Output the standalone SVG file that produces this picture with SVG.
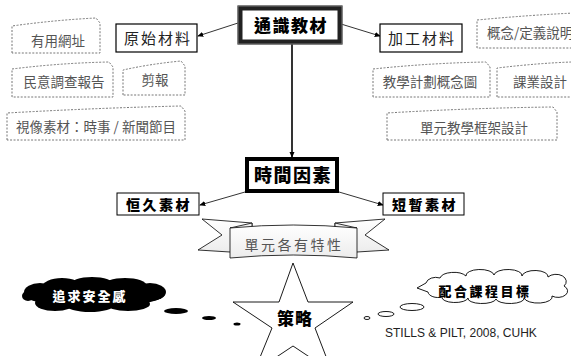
<svg xmlns="http://www.w3.org/2000/svg" width="571" height="356" viewBox="0 0 571 356">
<style>
.dash{fill:#fff;stroke:#777;stroke-width:1;stroke-dasharray:2,1.5}
.dt{font-family:"Noto Sans CJK TC","Noto Sans",sans-serif;font-size:13.5px;fill:#555;text-anchor:middle}
.heavy{font-family:"Noto Sans CJK TC",sans-serif;font-weight:900;fill:#000;text-anchor:middle}
.plain{font-family:"Noto Sans CJK TC",sans-serif;font-weight:400;fill:#222;text-anchor:middle}
.box{fill:#fff;stroke:#000}
.conn{stroke:#000;stroke-width:0.8;fill:none}
</style>
<defs>
<marker id="ah" viewBox="0 0 8 8" refX="7" refY="4" markerWidth="6" markerHeight="6" orient="auto" markerUnits="userSpaceOnUse">
<path d="M0,0.5 L8,4 L0,7.5 Z" fill="#000"/>
</marker>
<linearGradient id="rib" x1="0" y1="0" x2="0" y2="1">
<stop offset="0" stop-color="#fff"/><stop offset="1" stop-color="#ececec"/>
</linearGradient>
</defs>
<rect width="571" height="356" fill="#fff"/>

<g id="connectors">
<line class="conn" x1="238" y1="23" x2="198" y2="36" marker-end="url(#ah)"/>
<line class="conn" x1="341" y1="24" x2="380" y2="36" marker-end="url(#ah)"/>
<line x1="292" y1="43" x2="292" y2="157" stroke="#000" stroke-width="1.6" marker-end="url(#ah)"/>
<line class="conn" x1="245" y1="192" x2="200" y2="205" marker-end="url(#ah)"/>
<line class="conn" x1="339" y1="192" x2="383" y2="205" marker-end="url(#ah)"/>
</g>

<g id="n-youyong">
<path class="dash" d="M12,53 L12,26 Q55,20 96,18 L100,23 L100,53 Z"/>
<text class="dt" x="58" y="46">有用網址</text>
</g>
<g id="n-minyi">
<path class="dash" d="M12,97 L12,69 Q60,63 109,62 L113,67 L113,97 Z"/>
<text class="dt" x="64" y="87">民意調查報告</text>
</g>
<g id="n-jianbao">
<path class="dash" d="M123,95 L123,70 Q150,64 181,61 L185,66 L185,95 Z"/>
<text class="dt" x="155" y="85">剪報</text>
</g>
<g id="n-shixiang">
<path class="dash" d="M7,140 L7,113 Q95,108 181,106 L185,111 L185,140 Z"/>
<text class="dt" x="96" y="132">視像素材：時事 / 新聞節目</text>
</g>

<g id="n-yuanshi">
<rect class="box" x="116" y="24" width="81" height="28" stroke-width="1.2"/>
<text class="plain" x="158" y="44" font-size="15" letter-spacing="2">原始材料</text>
</g>

<g id="n-tongshi">
<rect x="240" y="8" width="100" height="34" fill="#fff" stroke="#222" stroke-width="5"/>
<rect x="238" y="6" width="104" height="38" fill="none" stroke="#777" stroke-width="1"/>
<text class="heavy" x="291" y="32" font-size="17" letter-spacing="1.5">通識教材</text>
</g>

<g id="n-jiagong">
<rect class="box" x="380" y="24" width="82" height="28" stroke-width="1.2"/>
<text class="plain" x="422" y="44" font-size="15" letter-spacing="2">加工材料</text>
</g>

<g id="n-gainian">
<path class="dash" d="M477,48 L477,20 Q530,15 575,13 L580,18 L580,48 Z"/>
<text class="dt" x="487" y="38" style="text-anchor:start">概念/定義說明</text>
</g>
<g id="n-jiaoxue">
<path class="dash" d="M373,97 L373,69 Q430,63 486,62 L490,67 L490,97 Z"/>
<text class="dt" x="430" y="87">教學計劃概念圖</text>
</g>
<g id="n-keye">
<path class="dash" d="M497,97 L497,68 Q540,63 572,62 L576,67 L576,97 Z"/>
<text class="dt" x="540" y="87">課業設計</text>
</g>
<g id="n-danyuan">
<path class="dash" d="M387,140 L387,113 Q470,108 553,107 L557,112 L557,140 Z"/>
<text class="dt" x="474" y="133">單元教學框架設計</text>
</g>

<g id="n-shijian">
<rect x="247" y="159" width="90" height="32" fill="#fff" stroke="#000" stroke-width="4"/>
<text class="heavy" x="293" y="182" font-size="18" letter-spacing="1.5">時間因素</text>
</g>

<g id="n-hengjiu">
<rect class="box" x="117" y="193" width="82" height="22" stroke-width="1"/>
<text class="heavy" x="159" y="210" font-size="14" letter-spacing="2.5">恒久素材</text>
</g>
<g id="n-duanzan">
<rect class="box" x="383" y="193" width="81" height="22" stroke-width="1"/>
<text class="heavy" x="425" y="210" font-size="14" letter-spacing="2.5">短暫素材</text>
</g>

<g id="n-banner" stroke="#000" stroke-width="0.8" stroke-linejoin="miter">
<path d="M202,219 L252,223 L252,250 L230,252 L198,250 L222,235 Z" fill="url(#rib)"/>
<path d="M385,219 L335,223 L335,250 L357,252 L389,250 L365,235 Z" fill="url(#rib)"/>
<path d="M230,228 L252,223 L252,231 Z" fill="#f0f0f0"/>
<path d="M357,228 L335,223 L335,231 Z" fill="#f0f0f0"/>
<path d="M230,228 Q293,222 357,228 L357,258 Q293,252 230,258 Z" fill="url(#rib)"/>
<text x="294" y="250" font-family="Noto Sans CJK TC,sans-serif" font-size="14" fill="#555" stroke="none" text-anchor="middle" letter-spacing="2.5">單元各有特性</text>
</g>

<g id="n-zhuiqiu">
<g fill="#000">
<ellipse cx="94" cy="295" rx="70" ry="12"/>
<ellipse cx="40" cy="292" rx="16" ry="9"/>
<ellipse cx="62" cy="287" rx="20" ry="9"/>
<ellipse cx="92" cy="285" rx="22" ry="8"/>
<ellipse cx="125" cy="286" rx="22" ry="8"/>
<ellipse cx="150" cy="292" rx="16" ry="9"/>
<ellipse cx="55" cy="303" rx="20" ry="8"/>
<ellipse cx="90" cy="305" rx="24" ry="7"/>
<ellipse cx="128" cy="304" rx="22" ry="7"/>
<ellipse cx="28" cy="296" rx="6" ry="5"/>
<ellipse cx="176" cy="311" rx="12" ry="3"/>
<ellipse cx="209" cy="318" rx="7" ry="2"/>
<ellipse cx="237" cy="324" rx="3.5" ry="1.5"/>
</g>
<text x="90" y="301" font-family="Noto Sans CJK TC,sans-serif" font-weight="900" font-size="13" fill="#fff" text-anchor="middle" letter-spacing="2">追求安全感</text>
</g>

<g id="n-celue">
<polygon points="293,263 308,302 353,302 315,328 332,372 293,346 254,372 272,328 233,302 279,302" fill="#fff" stroke="#000" stroke-width="0.9"/>
<text class="heavy" x="295" y="325" font-size="17" letter-spacing="1">策略</text>
</g>

<g id="n-peihe">
<path d="M417,288 L426,283 A10,7 0 0 1 440,278 A14,7 0 0 1 466,276 A14,6 0 0 1 494,275 A14,6 0 0 1 522,276 A13,6 0 0 1 548,277 A10,7 0 0 1 564,286 A9,6 0 0 1 552,296 A14,6 0 0 1 524,298 A14,5 0 0 1 496,299 A14,5 0 0 1 468,298 A13,5 0 0 1 442,297 A10,6 0 0 1 428,292 Z" fill="#fff" stroke="#000" stroke-width="0.9"/>
<ellipse cx="412" cy="307" rx="12" ry="3.5" fill="#fff" stroke="#000" stroke-width="0.9"/>
<ellipse cx="386" cy="314" rx="8" ry="2.5" fill="#fff" stroke="#000" stroke-width="0.9"/>
<ellipse cx="367" cy="318" rx="3" ry="1.5" fill="#fff" stroke="#000" stroke-width="0.9"/>
<text class="heavy" x="485" y="296" font-size="13" letter-spacing="2.5">配合課程目標</text>
</g>

<text id="credit" x="385" y="337" font-family="Liberation Sans,Arial,sans-serif" font-size="12" fill="#222">STILLS &amp; PILT, 2008, CUHK</text>
</svg>
